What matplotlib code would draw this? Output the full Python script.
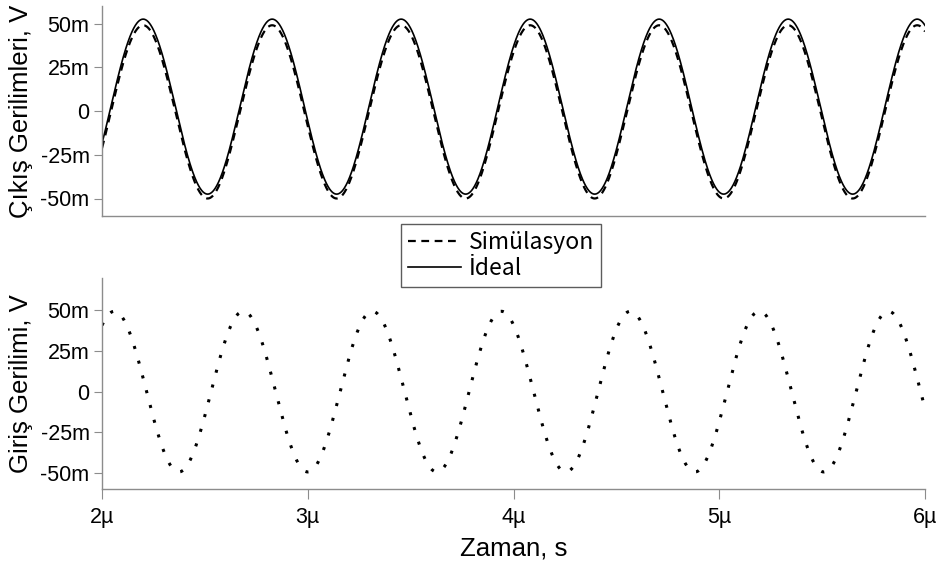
import numpy as np
import matplotlib
matplotlib.use("Agg")
import matplotlib.pyplot as plt
from matplotlib.lines import Line2D

# ---- data (time in µs, voltages in mV) ----
period_us = 0.627          # oscillation period read from peak spacing
t_start_us, t_end_us = 2.0, 6.0

ideal_amp_mV = 50.0        # Ideal output
ideal_offset_mV = 2.5
ideal_peak_us = 2.20

sim_amp_mV = 49.5          # Simulated output
sim_offset_mV = -0.5
sim_peak_us = 2.20

in_amp_mV = 49.5           # Input
in_offset_mV = 0.0
in_peak_us = 2.06

x_ticks = [2, 3, 4, 5, 6]
x_tick_labels = ["2µ", "3µ", "4µ", "5µ", "6µ"]
y_ticks = [50, 25, 0, -25, -50]
y_tick_labels = ["50m", "25m", "0", "-25m", "-50m"]

# ---- build traces ----
t = np.linspace(t_start_us, t_end_us, 2000)
w = 2 * np.pi / period_us
ideal = ideal_offset_mV + ideal_amp_mV * np.cos(w * (t - ideal_peak_us))
sim = sim_offset_mV + sim_amp_mV * np.cos(w * (t - sim_peak_us))
vin = in_offset_mV + in_amp_mV * np.cos(w * (t - in_peak_us))

W, H = 943, 565
fig = plt.figure(figsize=(W / 100, H / 100), dpi=100)
fig.patch.set_facecolor("white")

tick_font = "Liberation Sans"
spine_col = "#8c8c8c"

ax1 = fig.add_axes([102 / W, 1 - 216 / H, (925 - 102) / W, (216 - 6) / H])
ax2 = fig.add_axes([102 / W, 1 - 489 / H, (925 - 102) / W, (489 - 278) / H])

ax1.plot(t, sim, color="black", lw=1.6, linestyle=(0, (3.5, 2.5)))
ax1.plot(t, ideal, color="black", lw=1.2)
ax2.plot(t, vin, color="black", lw=2.2, linestyle=(0, (1, 4.0)))

for ax in (ax1, ax2):
    ax.set_xlim(t_start_us, t_end_us)
    for s in ("top", "right"):
        ax.spines[s].set_visible(False)
    for s in ("left", "bottom"):
        ax.spines[s].set_color(spine_col)
        ax.spines[s].set_linewidth(1.0)
    ax.set_yticks(y_ticks)
    ax.set_yticklabels(y_tick_labels, fontfamily=tick_font, fontsize=15.5)
    ax.tick_params(axis="y", length=6, color=spine_col, direction="out", pad=3)
    ax.tick_params(axis="x", length=7, color=spine_col, direction="out", pad=6)

ax1.set_ylim(-60, 60)
ax2.set_ylim(-60, 70)

ax1.set_xticks([])
ax2.set_xticks(x_ticks)
ax2.set_xticklabels(x_tick_labels, fontfamily=tick_font, fontsize=15.5)

ax1.set_ylabel("Çıkış Gerilimleri, V", fontfamily=tick_font, fontsize=18.5, labelpad=5)
ax2.set_ylabel("Giriş Gerilimi, V", fontfamily=tick_font, fontsize=18.5, labelpad=5)
ax2.set_xlabel("Zaman, s", fontfamily=tick_font, fontsize=18.5, labelpad=6)

handles = [
    Line2D([], [], color="black", lw=1.6, linestyle=(0, (3.5, 2.5))),
    Line2D([], [], color="black", lw=1.2),
]
leg = fig.legend(handles, ["Simülasyon", "İdeal"],
                 loc="center", bbox_to_anchor=(501 / W, 1 - 255.5 / H),
                 prop={"family": ["Noto Sans CJK JP", "DejaVu Sans"], "size": 16.5},
                 frameon=True, fancybox=False, handlelength=2.3, handletextpad=0.35,
                 borderpad=0.3, labelspacing=0.15, borderaxespad=0)
leg.get_frame().set_edgecolor("#333333")
leg.get_frame().set_linewidth(1.0)

fig.savefig("out.png", dpi=100, facecolor="white")
